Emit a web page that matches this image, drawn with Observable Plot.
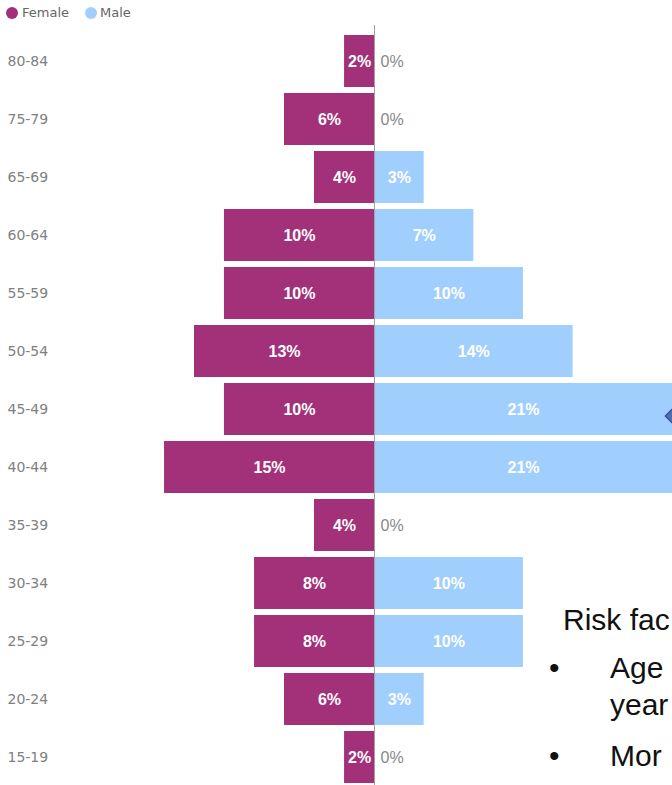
<!DOCTYPE html>
<html>
<head>
<meta charset="utf-8">
<script src="https://cdn.jsdelivr.net/npm/d3@7"></script>
<script src="https://cdn.jsdelivr.net/npm/@observablehq/plot@0.6"></script>
<style>
  html, body { margin: 0; padding: 0; background: #fff; width: 672px; height: 785px; overflow: hidden; }
  #wrap { position: relative; width: 672px; height: 785px; overflow: hidden; }
  #legend { position: absolute; left: 0; top: 0; height: 26px; font-family: "DejaVu Sans", sans-serif; font-size: 13px; color: #666; z-index: 2; }
  .sw { position: absolute; top: 7px; width: 12px; height: 12px; border-radius: 50%; }
  .lt { position: absolute; top: 5px; white-space: nowrap; }
  .ov { position: absolute; font-family: "Liberation Sans", Arial, sans-serif; font-size: 30px; color: #111; white-space: nowrap; line-height: 1; }
  #diamond { position: absolute; left: 667px; top: 410px; width: 10px; height: 10px; transform: rotate(45deg); background: #4B6FB3; border: 1px solid #2D4C8E; }
</style>
</head>
<body>
<div id="wrap">
  <div id="chart"></div>
  <div id="legend">
    <span class="sw" style="left:6px;background:#A3317A"></span><span class="lt" style="left:22px">Female</span>
    <span class="sw" style="left:85px;background:#A1CFFD"></span><span class="lt" style="left:100px">Male</span>
  </div>
  <div id="diamond"></div>
  <div class="ov" style="left:563px;top:605px">Risk fac</div>
  <div class="ov" style="left:549px;top:653px">•</div>
  <div class="ov" style="left:610px;top:653px">Age</div>
  <div class="ov" style="left:610px;top:690px">year</div>
  <div class="ov" style="left:549px;top:741px">•</div>
  <div class="ov" style="left:610px;top:741px">Mor</div>
</div>
<script>
const ages = ["80-84","75-79","65-69","60-64","55-59","50-54","45-49","40-44","35-39","30-34","25-29","20-24","15-19"];
const female = [2.08, 6.25, 4.17, 10.42, 10.42, 12.5, 10.42, 14.58, 4.17, 8.33, 8.33, 6.25, 2.08];
const male = [0, 0, 3.45, 6.9, 10.34, 13.79, 20.69, 20.69, 0, 10.34, 10.34, 3.45, 0];
const femaleLabels = ["2%","6%","4%","10%","10%","13%","10%","15%","4%","8%","8%","6%","2%"];
const maleLabels = ["0%","0%","3%","7%","10%","14%","21%","21%","0%","10%","10%","3%","0%"];

const femaleColor = "#A3317A";
const maleColor = "#A1CFFD";

const data = ages.map((a, i) => ({age: a, female: female[i], male: male[i], fl: femaleLabels[i], ml: maleLabels[i]}));

const chart = Plot.plot({
  width: 672,
  height: 793,
  marginTop: 25,
  marginBottom: 0,
  marginLeft: 0,
  marginRight: 0,
  x: {domain: [-25.97, 20.69], axis: null},
  y: {domain: ages, padding: 0.1, axis: null},
  style: {fontFamily: "Liberation Sans, Arial, sans-serif", background: "white"},
  marks: [
    Plot.barX(data, {y: "age", x1: d => -d.female, x2: 0, fill: femaleColor}),
    Plot.barX(data, {y: "age", x1: 0, x2: d => d.male, fill: maleColor}),
    Plot.ruleX([0], {stroke: "#a0a0a0", strokeWidth: 1}),
    Plot.text(data, {y: "age", x: d => -d.female / 2, text: "fl", fill: "white", fontWeight: "bold", fontSize: 16}),
    Plot.text(data.filter(d => d.male > 0), {y: "age", x: d => d.male / 2, text: "ml", fill: "white", fontWeight: "bold", fontSize: 16}),
    Plot.text(data.filter(d => d.male === 0), {y: "age", x: 0, dx: 6, textAnchor: "start", text: "ml", fill: "#888", fontSize: 16}),
    Plot.text(ages, {y: d => d, frameAnchor: "left", textAnchor: "start", dx: 7, fill: "#808080", fontSize: 14, fontFamily: "DejaVu Sans, sans-serif"})
  ]
});
document.getElementById("chart").appendChild(chart);
</script>
</body>
</html>
